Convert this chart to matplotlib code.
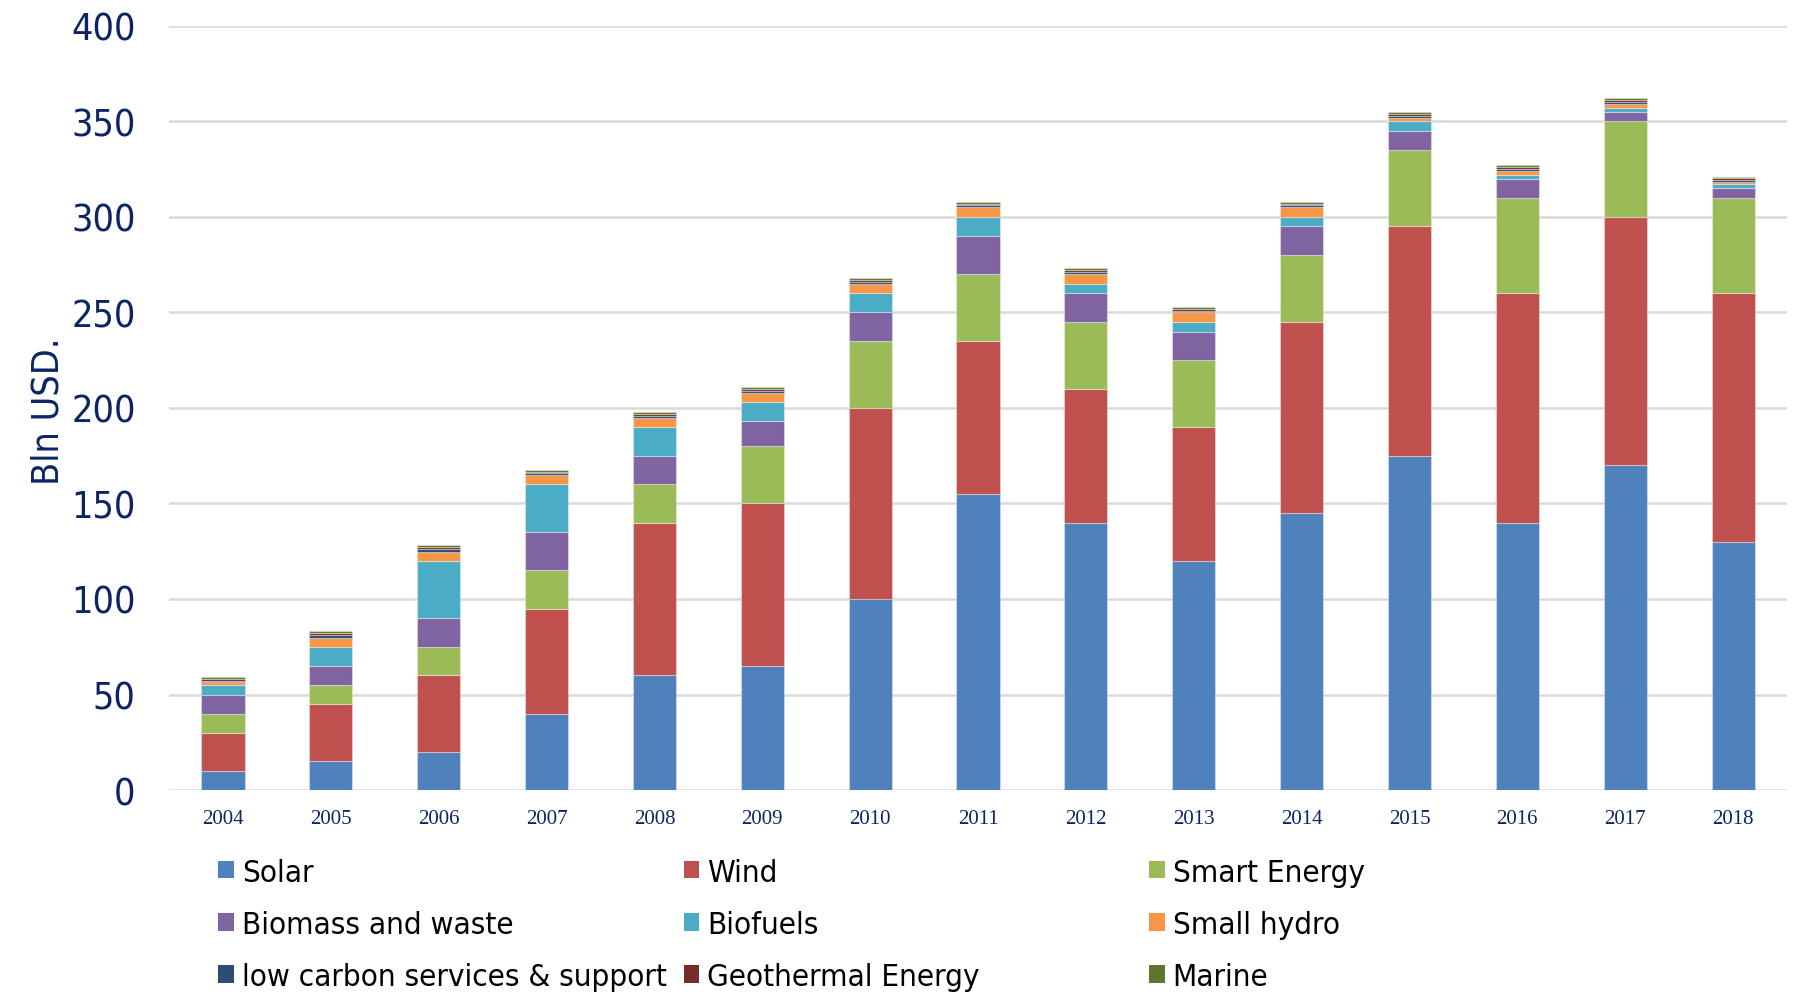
import numpy as np
import matplotlib.pyplot as plt
from matplotlib.patches import Patch

# yillara gore yatirim (Bln USD)
years = ['2004', '2005', '2006', '2007', '2008', '2009', '2010', '2011',
         '2012', '2013', '2014', '2015', '2016', '2017', '2018']

solar = [10, 15, 20, 40, 60, 65, 100, 155, 140, 120, 145, 175, 140, 170, 130]
wind = [20, 30, 40, 55, 80, 85, 100, 80, 70, 70, 100, 120, 120, 130, 130]
smart_energy = [10, 10, 15, 20, 20, 30, 35, 35, 35, 35, 35, 40, 50, 50, 50]
biomass = [10, 10, 15, 20, 15, 13, 15, 20, 15, 15, 15, 10, 10, 5, 5]
biofuels = [5, 10, 30, 25, 15, 10, 10, 10, 5, 5, 5, 5, 2, 2, 2]
small_hydro = [1.5, 4.7, 4.8, 4.7, 4.5, 5, 5, 5, 5, 5, 5, 2, 2, 2, 1.5]
low_carbon = [0.8, 1.2, 1.2, 1.0, 1.2, 1.0, 1.0, 1.0, 1.0, 0.9, 1.0, 1.0, 1.0, 1.0, 0.8]
geothermal = [0.9, 1.1, 1.0, 1.0, 1.2, 1.0, 1.0, 1.0, 1.0, 0.9, 1.0, 1.0, 1.0, 1.0, 0.9]
marine = [0.8, 1.0, 1.0, 1.0, 1.1, 1.0, 1.0, 1.0, 1.0, 0.9, 1.0, 1.0, 1.0, 1.0, 0.8]

series = [
    ('Solar', solar, '#4F81BD'),
    ('Wind', wind, '#C0504D'),
    ('Smart Energy', smart_energy, '#9BBB59'),
    ('Biomass and waste', biomass, '#8064A2'),
    ('Biofuels', biofuels, '#4BACC6'),
    ('Small hydro', small_hydro, '#F79646'),
    ('low carbon services & support', low_carbon, '#2C4D75'),
    ('Geothermal Energy', geothermal, '#772C2A'),
    ('Marine', marine, '#5F7530'),
]

navy = '#0B2463'

fig = plt.figure(figsize=(18.04, 9.95), dpi=100)
ax = fig.add_axes([0.0937, 0.205, 0.8969, 0.768])

x = np.arange(len(years))
bottom = np.zeros(len(years))
for name, vals, col in series:
    ax.bar(x, vals, width=0.40, bottom=bottom, color=col,
           edgecolor=(1, 1, 1, 0.35), linewidth=0.8, zorder=3)
    bottom += np.array(vals)

ax.set_xlim(-0.5, len(years) - 0.5)
ax.set_ylim(0, 400)
ax.set_yticks(range(0, 401, 50))
ax.yaxis.grid(True, color='#D9D9D9', linewidth=1.8, zorder=0)
ax.set_axisbelow(True)
for s in ax.spines.values():
    s.set_visible(False)
ax.tick_params(axis='both', length=0)
ax.tick_params(axis='y', labelsize=27, labelcolor=navy, pad=24)
for lab in ax.get_yticklabels():
    lab.set_fontstretch('condensed')

ax.set_xticks(x)
ax.set_xticklabels(years, fontfamily='Liberation Serif', fontsize=15, color=navy)
ax.tick_params(axis='x', pad=14)

fig.text(0.027, 0.587, 'Bln USD.', rotation=90, fontsize=27, color=navy,
         fontstretch='condensed', ha='center', va='center')

# legend: 3 sutun ayri ayri yerlestirildi
col_x = [0.121, 0.379, 0.637]
for c in range(3):
    handles = []
    for r in range(3):
        name, vals, col = series[r * 3 + c]
        handles.append(Patch(facecolor=col, edgecolor='none', label=name))
    fig.legend(handles=handles, loc='upper left', bbox_to_anchor=(col_x[c], 0.137),
               frameon=False, handlelength=0.5, handleheight=0.5, handletextpad=0.25,
               labelspacing=0.74, borderaxespad=0, borderpad=0,
               prop={'family': 'DejaVu Sans', 'stretch': 'condensed', 'size': 22.5})

fig.savefig('out.png', dpi=100)
